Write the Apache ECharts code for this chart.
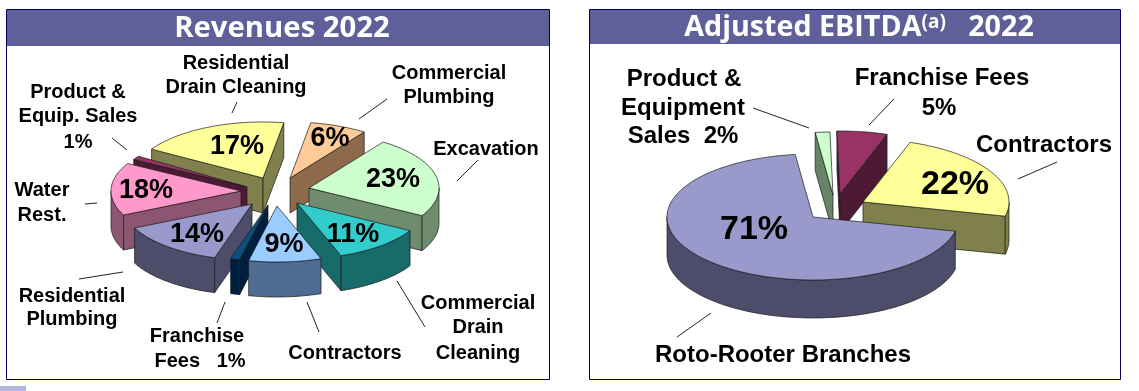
<!DOCTYPE html>
<html>
<head>
<meta charset="utf-8">
<style>html,body{margin:0;padding:0;background:#fff}#c{width:1139px;height:391px}</style>
<script src="https://cdn.jsdelivr.net/npm/echarts@6/dist/echarts.min.js"></script>
</head>
<body>
<div id="c"></div>
<script>
// ---- data ----
const revenueCategories = ['Residential Drain Cleaning','Commercial Plumbing','Excavation','Commercial Drain Cleaning','Contractors','Franchise Fees','Residential Plumbing','Water Rest.','Product & Equip. Sales'];
const revenueValues = [17,6,23,11,9,1,14,18,1];
const ebitdaCategories = ['Roto-Rooter Branches','Product & Equipment Sales','Franchise Fees','Contractors'];
const ebitdaValues = [71,2,5,22];

// ---- styling / layout ----
const revenueTop  = ['#ffff99','#ffcc99','#ccffcc','#33cccc','#99ccff','#0b4f80','#9999cc','#ff99cc','#993366'];
const revenueWall = ['#80804d','#8c6a4a','#6f8c6f','#176b6b','#4f6d92','#001f40','#4d4d6b','#8c5570','#4d1a33'];
const ebitdaTop   = ['#9999cc','#ccffcc','#993366','#ffff99'];
const ebitdaWall  = ['#4d4d6b','#668566','#4d1a33','#80804d'];
// explode: slice tip displacement from the pie centre; skew: perspective correction of each slice boundary, degrees
const revenueLayout = {cx:272,cy:192,rx:130,ry:56,depth:35,start:301,
  explode:[[-9,-14],[18,-14],[37,-4],[25,11],[5,14],[-4,13],[-20,12],[-31,-1],[-25,-5]],
  skew:[7,11,13,14,14,14.5,12,2,2.4],
  labelAt:[[-26,-31],[40,-39],[84,-8],[56,32],[7,39],null,[-55,31],[-95,0],null],
  order:[1,0,8,2,7,6,5,3,4], size:27};
const ebitdaLayout = {cx:828,cy:210,rx:146,ry:63,depth:38,start:103,
  explode:[[-15,7],[5,-15],[12,-16],[35,-8]],
  skew:[-5.6,-7,-5,0],
  labelAt:[[-59,13],null,null,[92,-17]],
  order:[1,2,3,0], size:34};

const LABEL = '"Liberation Sans", Arial, sans-serif';
const rad = d => d*Math.PI/180;

function pieSeries(values, tops, walls, L, names){
  const total = values.reduce((a,b)=>a+b,0);
  let cum = 0, prev = L.start;
  const spans = values.map((v,i)=>{cum+=v; const end=L.start+cum/total*360+L.skew[i]; const s=[prev,end]; prev=end; return s;});
  const at = a => [Math.sin(rad(a))*L.rx, -Math.cos(rad(a))*L.ry];
  return {
    type:'custom', coordinateSystem:'none', silent:true,
    data: L.order.map(i=>({name:names[i], value:[values[i],i]})),
    renderItem(params, api){
      const i = api.value(1), v = api.value(0);
      const [a0,a1] = spans[i];
      const ax = L.cx+L.explode[i][0], ay = L.cy+L.explode[i][1];
      const pt = a=>{const p=at(a);return [ax+p[0],ay+p[1]];};
      const arc = (from,to)=>{const r=[];const n=Math.max(1,Math.ceil((to-from)/2));for(let k=0;k<=n;k++)r.push(pt(from+(to-from)*k/n));return r;};
      const down = p=>[p[0],p[1]+L.depth];
      const style = c=>({fill:c,stroke:'#1a1a1a',lineWidth:.7,lineJoin:'round'});
      const ch=[];
      const face = pts=>ch.push({type:'polygon',shape:{points:pts},style:style(walls[i])});
      const radial = a=>{const p=pt(a);face([[ax,ay],p,down(p),[ax,ay+L.depth]]);};
      if (Math.sin(rad(a0))<0) radial(a0);
      if (Math.sin(rad(a1))>0) radial(a1);
      [[90,270],[450,630]].forEach(([lo,hi])=>{
        const f=Math.max(a0,lo), t=Math.min(a1,hi);
        if(t>f){const top=arc(f,t);face(top.concat(top.map(down).reverse()));}
      });
      ch.push({type:'polygon',shape:{points:[[ax,ay]].concat(arc(a0,a1))},style:style(tops[i])});
      const lp = L.labelAt[i];
      if (lp){
        ch.push({type:'text',z2:50,style:{text:v+'%',x:ax+lp[0],y:ay+lp[1],
          align:'center',verticalAlign:'middle',font:'bold '+L.size+'px '+LABEL,fill:'#000'}});
      }
      return {type:'group',children:ch};
    }
  };
}

// ---- annotations ----
const TITLE = '"Open Sans", sans-serif';
const labelsLeft = [
 ['Residential',236,62],['Drain Cleaning',236,86],
 ['Product &',78,91],['Equip. Sales',78,115],['1%',78,141],
 ['Water',42,189],['Rest.',42,214],
 ['Residential',72,295],['Plumbing',72,318],
 ['Franchise',197,335],['Fees   1%',200,360],
 ['Contractors',345,352],
 ['Commercial',478,302],['Drain',478,326],['Cleaning',478,352],
 ['Excavation',486,148],
 ['Commercial',449,72],['Plumbing',449,96]];
const labelsRight = [
 ['Product &',684,78],['Equipment',683,107],['Sales  2%',683,135],
 ['Franchise Fees',942,77],['5%',939,107],
 ['Contractors',1044,144],
 ['Roto-Rooter Branches',783,354]];
const leaders = [
 [237,102,232,113],[112,138,127,150],[85,204,97,203],[79,279,123,272],[225,302,217,323],
 [307,302,319,332],[397,281,425,327],[478,160,457,181],[387,99,359,119],
 [753,108,809,128],[894,99,869,125],[1057,162,1018,179],[711,313,677,337]];

const txt=(t,size)=>({type:'text',z:10,style:{text:t[0],x:t[1],y:t[2]+1,align:'center',verticalAlign:'middle',font:'bold '+size+'px '+LABEL,fill:'#000'}});
const frame=(x,y,w,h,hh)=>[
 {type:'rect',shape:{x,y,width:w,height:h},style:{fill:'#fff',stroke:'#000066',lineWidth:1},z:-2},
 {type:'rect',shape:{x:x+.5,y:y+.5,width:w-1,height:hh},style:{fill:'#5f5f99'},z:-1}];

const graphic=[].concat(
 frame(6.5,9.5,543,370,36),
 frame(589.5,9.5,531,370,34),
 [{type:'rect',shape:{x:0,y:386,width:26,height:5},style:{fill:'#b3b3e0'}}],
 [{type:'text',z:10,style:{text:'Revenues 2022',x:282,y:29,align:'center',verticalAlign:'middle',font:'700 29.3px '+TITLE,fill:'#fff'}}],
 [{type:'text',z:10,style:{x:859,y:27.5,align:'center',verticalAlign:'middle',fill:'#fff',
   text:'{m|Adjusted EBITDA}{s|(a)}{m|   2022}',
   rich:{m:{font:'700 28.7px '+TITLE,fill:'#fff',color:'#fff'},s:{font:'700 19px '+TITLE,color:'#fff',fill:'#fff',verticalAlign:'top',padding:[0,0,10,0]}}}}],
 labelsLeft.map(t=>txt(t,20)),
 labelsRight.map(t=>txt(t,24)),
 leaders.map(l=>({type:'line',z:10,shape:{x1:l[0],y1:l[1],x2:l[2],y2:l[3]},style:{stroke:'#222',lineWidth:1}}))
);

const chart=echarts.init(document.getElementById('c'),null,{renderer:'canvas'});
chart.setOption({
  animation:false,
  backgroundColor:'#fff',
  graphic:{elements:graphic},
  series:[
    pieSeries(revenueValues,revenueTop,revenueWall,revenueLayout,revenueCategories),
    pieSeries(ebitdaValues,ebitdaTop,ebitdaWall,ebitdaLayout,ebitdaCategories)
  ]
});
</script>
</body>
</html>
